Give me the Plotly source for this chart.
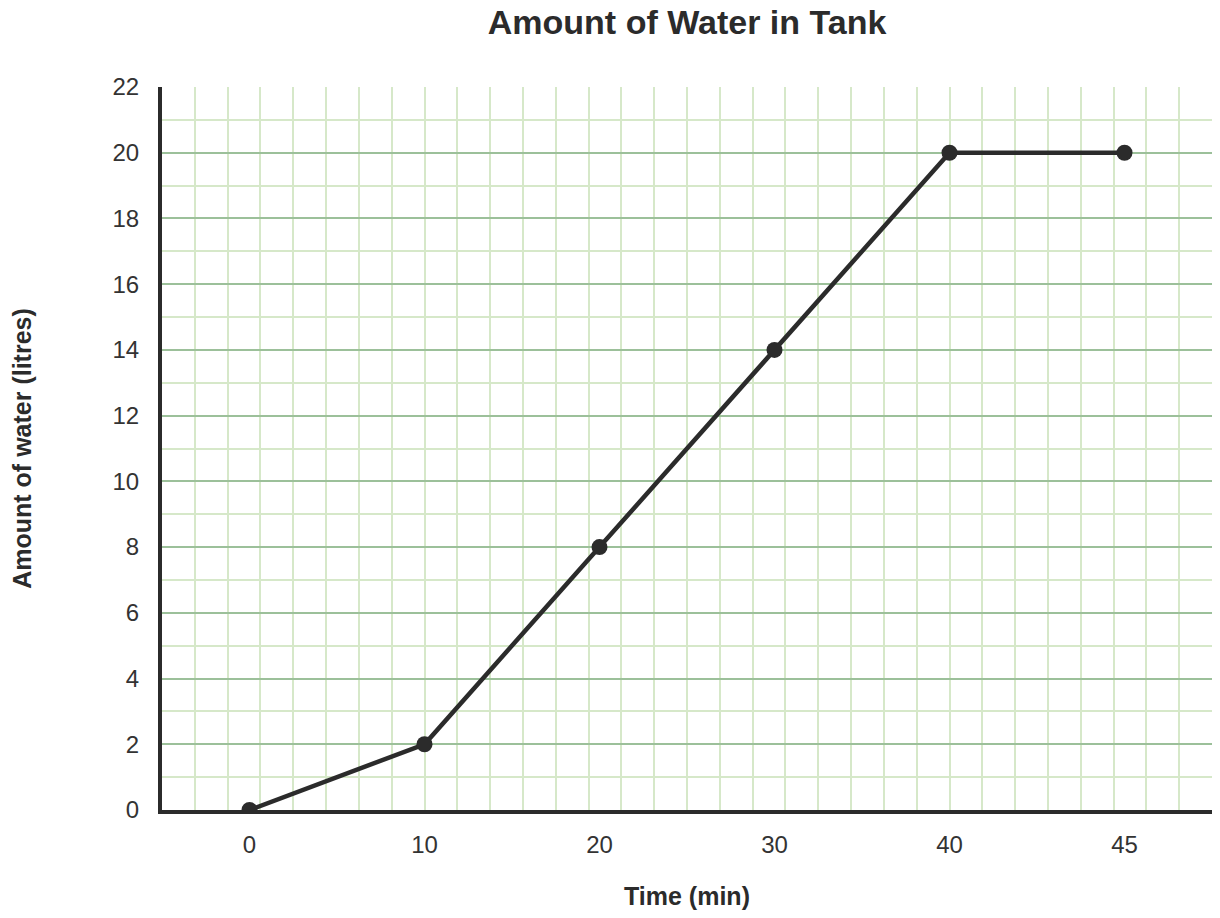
import plotly.graph_objects as go

times = [0, 10, 20, 30, 40, 45]
water = [0, 2, 8, 14, 20, 20]
y_ticks = list(range(0, 23, 2))

# time points are spaced evenly, like categories
x_pos = list(range(len(times)))

fig = go.Figure(go.Scatter(
    x=x_pos, y=water,
    mode='lines+markers',
    line=dict(color='#2b2b2b', width=4.5),
    marker=dict(color='#2b2b2b', size=16),
    hoverinfo='skip',
))

# page body adds 8px margin, so the figure is a bit smaller than the window
fig.update_layout(
    width=1204, height=902,
    margin=dict(l=154, r=0, t=79, b=100),
    paper_bgcolor='white', plot_bgcolor='white',
    showlegend=False,
    font=dict(family='Liberation Sans, Arial, sans-serif', color='#333333'),
    title=dict(text='<b>Amount of Water in Tank</b>', x=0.564, xanchor='center',
               y=0.984, yanchor='middle',
               font=dict(size=34, color='#2b2b2b')),
)

fig.update_xaxes(
    range=[-0.5, 5.5],
    tickmode='array', tickvals=x_pos, ticktext=[str(t) for t in times],
    tickfont=dict(size=24, color='#333333'),
    ticks='outside', ticklen=10, tickcolor='rgba(0,0,0,0)',
    showgrid=False, zeroline=False,
    showline=True, linecolor='#2b2b2b', linewidth=4,
    minor=dict(tick0=-0.5, dtick=6 / 32, showgrid=True,
               gridcolor='#d6e8c9', gridwidth=2),
    title=dict(text='<b>Time (min)</b>', font=dict(size=25, color='#2b2b2b'), standoff=35),
    automargin=False,
)

fig.update_yaxes(
    range=[0, 22],
    tickmode='array', tickvals=y_ticks,
    tickfont=dict(size=24, color='#333333'),
    ticks='outside', ticklen=14, tickcolor='rgba(0,0,0,0)',
    showgrid=True, gridcolor='#9cc09a', gridwidth=2,
    zeroline=False,
    showline=True, linecolor='#2b2b2b', linewidth=4,
    minor=dict(tick0=0, dtick=1, showgrid=True,
               gridcolor='#d6e8c9', gridwidth=2),
    title=dict(text='<b>Amount of water (litres)</b>', font=dict(size=25, color='#2b2b2b'), standoff=83),
    automargin=False,
)

fig.write_html('out.html')
